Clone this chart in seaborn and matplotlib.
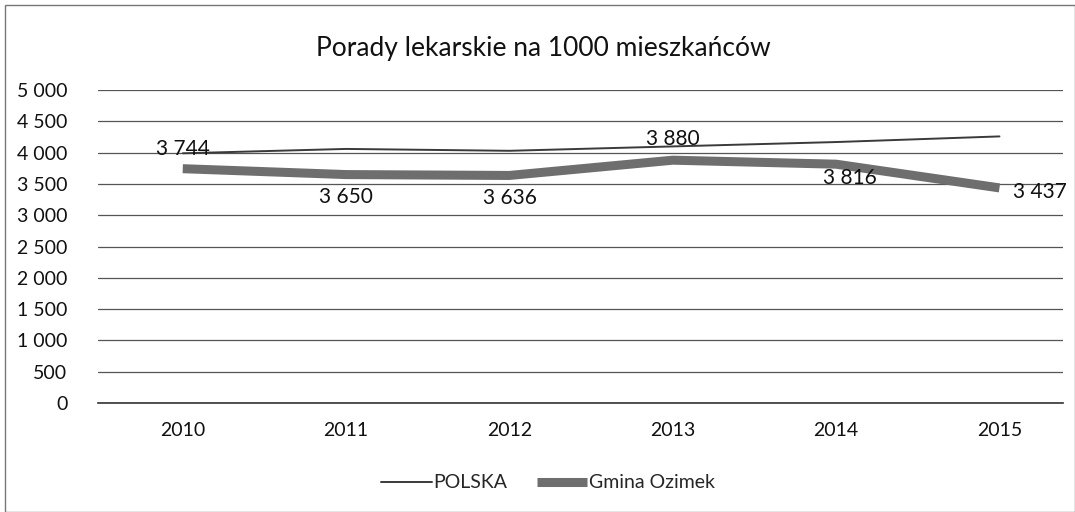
import pandas as pd
import matplotlib
matplotlib.use("Agg")
import matplotlib.pyplot as plt
import matplotlib.patches as patches
import seaborn as sns

# dane
lata = ["2010", "2011", "2012", "2013", "2014", "2015"]
polska = [3990, 4060, 4030, 4100, 4170, 4260]
ozimek = [3744, 3650, 3636, 3880, 3816, 3437]
tytul = "Porady lekarskie na 1000 mieszkańców"

df = pd.DataFrame({"rok": lata * 2,
                   "wartosc": polska + ozimek,
                   "seria": ["POLSKA"] * 6 + ["Gmina Ozimek"] * 6})

sns.set_style("white")
plt.rcParams["font.family"] = ["Lato", "DejaVu Sans"]

fig = plt.figure(figsize=(10.75, 5.12), dpi=100)
ax = fig.add_axes([0.091, 0.213, 0.898, 0.611])

sns.lineplot(data=df[df.seria == "POLSKA"], x="rok", y="wartosc", ax=ax,
             color="#3a3a3a", linewidth=1.4, label="POLSKA", sort=False)
sns.lineplot(data=df[df.seria == "Gmina Ozimek"], x="rok", y="wartosc", ax=ax,
             color="#6e6e6e", linewidth=6.5, label="Gmina Ozimek", sort=False,
             solid_capstyle="butt")

ax.set_ylim(0, 5000)
ax.set_xlim(-0.52, 5.39)
ax.set_yticks(range(0, 5001, 500))
ax.set_yticklabels([f"{v:,}".replace(",", " ") for v in range(0, 5001, 500)])
ax.yaxis.grid(True, color="#555555", linewidth=0.9)
ax.set_axisbelow(True)
for s in ["top", "right", "left"]:
    ax.spines[s].set_visible(False)
ax.spines["bottom"].set_color("#333333")
ax.spines["bottom"].set_linewidth(1.2)
ax.tick_params(axis="both", length=0, labelsize=14, colors="#111111")
ax.tick_params(axis="x", pad=14)
ax.tick_params(axis="y", pad=22)
ax.set_xlabel("")
ax.set_ylabel("")

# etykiety danych dla gminy
przes = [(0, 14, "center"), (0, -16, "center"), (0, -16, "center"),
         (0, 15, "center"), (10, -10, "center"), (10, -3, "left")]
for i, v in enumerate(ozimek):
    dx, dy, ha = przes[i]
    ax.annotate(f"{v:,}".replace(",", " "), (i, v), xytext=(dx, dy),
                textcoords="offset points", ha=ha, va="center",
                fontsize=15, color="#111111")

ax.get_legend().remove()
h, l = ax.get_legend_handles_labels()
fig.legend(h, l, loc="center", bbox_to_anchor=(0.51, 0.057), ncol=2,
           frameon=False, fontsize=14, handlelength=2.6, columnspacing=1.5,
           handletextpad=0.1)

fig.text(0.505, 0.905, tytul, ha="center", va="center", fontsize=19,
         color="#111111")

fig.patches.append(patches.Rectangle((0.005, 0.0), 0.995, 0.99,
                                     transform=fig.transFigure, fill=False,
                                     edgecolor="#777777", linewidth=1))

fig.savefig("out.png", dpi=100)
